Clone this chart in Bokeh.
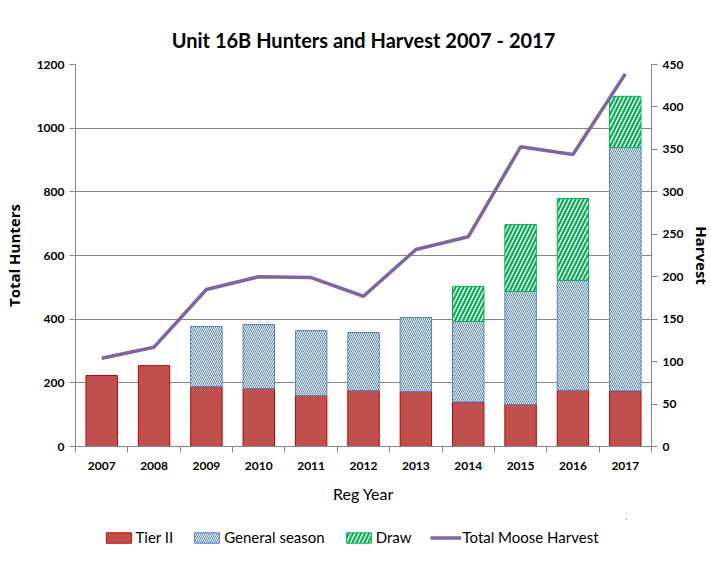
from bokeh.plotting import figure
from bokeh.layouts import column
from bokeh.models import (Range1d, LinearAxis, FixedTicker, ColumnDataSource, Legend, LegendItem)
from bokeh.embed import file_html
from bokeh.resources import INLINE

years = [2007, 2008, 2009, 2010, 2011, 2012, 2013, 2014, 2015, 2016, 2017]
tier2 = [223, 254, 188, 182, 160, 176, 173, 140, 132, 177, 175]
general = [0, 0, 189, 201, 204, 182, 232, 253, 355, 345, 764]
draw = [0, 0, 0, 0, 0, 0, 0, 110, 210, 257, 161]
harvest = [104, 117, 185, 200, 199, 177, 232, 247, 353, 344, 439]
series_names = ["Tier II", "General season", "Draw", "Total Moose Harvest"]

FONT = "Lato"
GRAY = "#868686"
RED, RED_LINE = "#C0504D", "#C00000"
BLUE = "#4F81BD"
GREEN = "#00B050"
PURPLE = "#8064A2"

p = figure(frame_width=576, frame_height=382, output_backend="svg", toolbar_location=None,
           x_range=Range1d(2006.5, 2017.5), y_range=Range1d(0, 1200),
           min_border_left=10, min_border_right=10, min_border_top=64, min_border_bottom=73)
p.extra_y_ranges = {"harv": Range1d(0, 450)}

# title
p.title.text = "Unit 16B Hunters and Harvest 2007 - 2017"
p.title.align = "center"
p.title.text_font = FONT
p.title.text_font_size = "20px"
p.title.text_font_style = "bold"
p.title.text_color = "black"
p.title.standoff = 26

bar_style_t = dict(fill_color=RED, line_color=RED_LINE, line_width=1)
bar_style_g = dict(fill_color="white", line_color=BLUE, line_width=1,
                   hatch_pattern="left_diagonal_line", hatch_color=BLUE,
                   hatch_scale=4, hatch_weight=1.0)
bar_style_d = dict(fill_color="white", line_color=GREEN, line_width=1,
                   hatch_pattern="right_diagonal_line", hatch_color=GREEN,
                   hatch_scale=8, hatch_weight=2.2)
line_style = dict(line_color=PURPLE, line_width=3.5)

# bars
src_t = ColumnDataSource(dict(x=years, top=tier2))
p.vbar(x="x", top="top", bottom=0, width=0.6, source=src_t, **bar_style_t)

gx = [y for y, g in zip(years, general) if g > 0]
gb = [t for t, g in zip(tier2, general) if g > 0]
gt = [t + g for t, g in zip(tier2, general) if g > 0]
src_g = ColumnDataSource(dict(x=gx, bottom=gb, top=gt))
p.vbar(x="x", top="top", bottom="bottom", width=0.6, source=src_g, **bar_style_g)

dx = [y for y, d in zip(years, draw) if d > 0]
db = [t + g for t, g, d in zip(tier2, general, draw) if d > 0]
dt = [t + g + d for t, g, d in zip(tier2, general, draw) if d > 0]
src_d = ColumnDataSource(dict(x=dx, bottom=db, top=dt))
p.vbar(x="x", top="top", bottom="bottom", width=0.6, source=src_d, **bar_style_d)

p.line(years, harvest, y_range_name="harv", **line_style)

# axes
p.xaxis.ticker = FixedTicker(ticks=years, minor_ticks=[y - 0.5 for y in years] + [2017.5])
p.xaxis.axis_label = "Reg Year"

p.yaxis.ticker = FixedTicker(ticks=[0, 200, 400, 600, 800, 1000, 1200])
p.yaxis.axis_label = "Total Hunters"

ax2 = LinearAxis(y_range_name="harv", axis_label="Harvest",
                 ticker=FixedTicker(ticks=list(range(0, 451, 50))))
p.add_layout(ax2, "right")

for ax in [p.xaxis[0], p.yaxis[0], ax2]:
    ax.axis_line_color = GRAY
    ax.major_tick_line_color = GRAY
    ax.major_tick_out = 6
    ax.major_tick_in = 0
    ax.minor_tick_line_color = None
    ax.major_label_text_font = FONT
    ax.major_label_text_font_style = "bold"
    ax.major_label_text_font_size = "12px"
    ax.major_label_text_color = "black"
    ax.axis_label_text_font = FONT
    ax.axis_label_text_font_style = "bold"
    ax.axis_label_text_font_size = "15px"
    ax.axis_label_text_color = "black"
p.xaxis.major_tick_line_color = None
p.xaxis.minor_tick_line_color = GRAY
p.xaxis.minor_tick_out = 6
p.xaxis.minor_tick_in = 0
p.xaxis.major_label_standoff = 9
p.xaxis.axis_label_standoff = 11
p.xaxis.axis_label_text_font_style = "normal"
p.xaxis.axis_label_text_font_size = "16px"
p.yaxis.axis_label_text_font = "Open Sans"
ax2.axis_label_text_font = "Open Sans"
p.yaxis.axis_label_text_font_size = "15px"
ax2.axis_label_text_font_size = "15px"
p.yaxis.axis_label_standoff = 10
ax2.axis_label_standoff = 6

p.xgrid.grid_line_color = None
p.ygrid.grid_line_color = GRAY
p.ygrid.grid_line_width = 1
p.outline_line_color = None

# legend in its own strip below the chart (proxy glyphs lie outside the strip's ranges)
lf = figure(width=690, height=36, output_backend="svg", toolbar_location=None,
            x_range=Range1d(0, 1), y_range=Range1d(-2, -1), min_border=0)
lf.axis.visible = False
lf.grid.visible = False
lf.outline_line_color = None
lt = lf.vbar(x="x", top="top", bottom=0, width=0.6,
             source=ColumnDataSource(dict(src_t.data)), **bar_style_t)
lg = lf.vbar(x="x", top="top", bottom="bottom", width=0.6,
             source=ColumnDataSource(dict(src_g.data)), **bar_style_g)
ld = lf.vbar(x="x", top="top", bottom="bottom", width=0.6,
             source=ColumnDataSource(dict(src_d.data)), **bar_style_d)
ll = lf.line(x=years, y=harvest, **line_style)
legend = Legend(items=[LegendItem(label=n, renderers=[r])
                       for n, r in zip(series_names, [lt, lg, ld, ll])],
                orientation="horizontal", location="center")
legend.label_text_font = FONT
legend.label_text_font_size = "15px"
legend.label_text_color = "black"
legend.glyph_width = 31
legend.glyph_height = 13
legend.spacing = 18
legend.label_standoff = 2
legend.padding = 0
legend.margin = 0
legend.border_line_color = None
legend.background_fill_alpha = 0
lf.add_layout(legend)

open("out.html", "w").write(file_html(column(p, lf, spacing=0), INLINE))
